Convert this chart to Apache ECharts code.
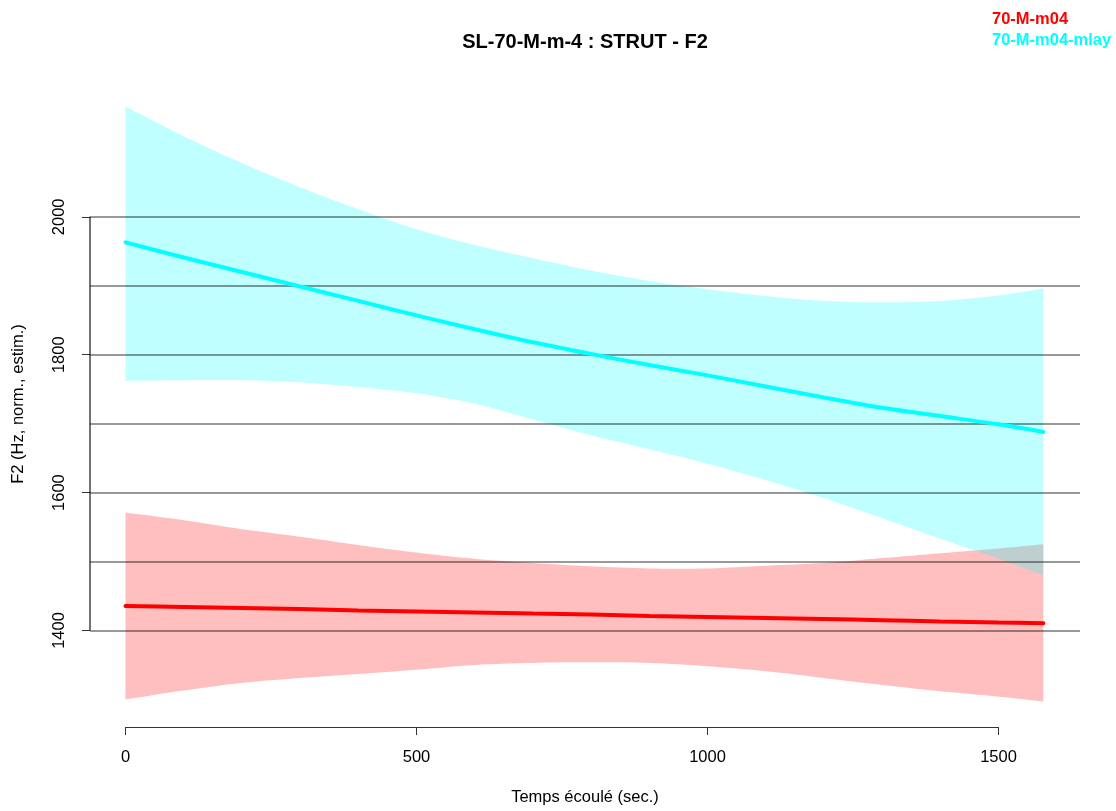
<!DOCTYPE html>
<html>
<head>
<meta charset="utf-8">
<title>SL-70-M-m-4 : STRUT - F2</title>
<script src="https://cdn.jsdelivr.net/npm/echarts@6/dist/echarts.min.js"></script>
<style>
  html, body { margin: 0; padding: 0; background: #fff; }
  #chart { width: 1116px; height: 811px; }
</style>
</head>
<body>
<div id="chart"></div>
<script>
// Elapsed time (s) at which the fitted curves are sampled
const times = [0, 100, 200, 300, 400, 500, 600, 700, 800, 900, 1000, 1100, 1200, 1300, 1400, 1500, 1577];

// 70-M-m04 : fitted F2 and its confidence band
const redMean  = [1435.5, 1434, 1432.5, 1431, 1429, 1427.5, 1426, 1424.5, 1423, 1421, 1419.5, 1418, 1416.5, 1415, 1413, 1411.5, 1410.5];
const redUpper = [1571, 1560, 1547, 1536, 1524, 1513, 1504, 1498, 1493, 1490, 1490, 1494, 1498, 1505, 1512, 1519, 1525];
const redLower = [1300, 1313, 1324, 1331, 1337, 1343, 1350, 1353, 1354, 1353, 1348, 1341, 1331, 1321, 1312, 1304, 1297];

// 70-M-m04-mlay : fitted F2 and its confidence band
const cyanMean  = [1963, 1941, 1920, 1899, 1878, 1857, 1837, 1818, 1801, 1785, 1770, 1754, 1738, 1723, 1711, 1699, 1688];
const cyanUpper = [2160, 2117, 2078, 2043, 2011, 1982, 1959, 1940, 1922, 1907, 1895, 1885, 1878, 1876, 1878, 1886, 1896];
const cyanLower = [1762, 1763, 1763, 1760, 1753, 1744, 1729, 1706, 1683, 1663, 1642, 1618, 1592, 1563, 1533, 1504, 1480];

// Axis ticks and horizontal reference lines
const xTicks = [0, 500, 1000, 1500];
const yTicks = [1400, 1600, 1800, 2000];
const hLines = [1400, 1500, 1600, 1700, 1800, 1900, 2000];

const seriesNames = ['70-M-m04', '70-M-m04-mlay'];
const RED = '#FF0000';
const CYAN = '#00FFFF';
const FONT = '"Liberation Sans", Arial, Helvetica, sans-serif';

const X_MIN = -61, X_MAX = 1640;
const Y_MIN = 1260, Y_MAX = 2197;

const pairs = (ys) => times.map((t, i) => [t, ys[i]]);

// Catmull-Rom densification in pixel space so band edges render as smooth curves
function smoothPx(pts, steps) {
  const out = [];
  for (let i = 0; i < pts.length - 1; i++) {
    const p0 = pts[Math.max(i - 1, 0)], p1 = pts[i], p2 = pts[i + 1], p3 = pts[Math.min(i + 2, pts.length - 1)];
    for (let s = 0; s < steps; s++) {
      const t = s / steps, t2 = t * t, t3 = t2 * t;
      const f = (a, b, c, d) => 0.5 * ((2 * b) + (-a + c) * t + (2 * a - 5 * b + 4 * c - d) * t2 + (-a + 3 * b - 3 * c + d) * t3);
      out.push([f(p0[0], p1[0], p2[0], p3[0]), f(p0[1], p1[1], p2[1], p3[1])]);
    }
  }
  out.push(pts[pts.length - 1]);
  return out;
}

// One band per series: data rows are [time, lower, upper]; drawn as a single filled polygon
function band(name, lo, hi, color) {
  return {
    type: 'custom', name: name + '-band', z: 1, silent: true, clip: true,
    data: times.map((t, i) => [t, lo[i], hi[i]]),
    encode: { x: 0, y: [1, 2] },
    renderItem: function (params, api) {
      if (params.dataIndex !== 0) return null;
      const top = [], bot = [];
      for (let i = 0; i < times.length; i++) {
        top.push(api.coord([times[i], hi[i]]));
        bot.push(api.coord([times[i], lo[i]]));
      }
      const pts = smoothPx(top, 8).concat(smoothPx(bot, 8).reverse());
      return { type: 'polygon', shape: { points: pts }, style: { fill: color, stroke: null } };
    }
  };
}

const chart = echarts.init(document.getElementById('chart'), null, { renderer: 'canvas' });

chart.setOption({
  animation: false,
  backgroundColor: '#ffffff',
  grid: { left: 90, width: 990, top: 81, height: 659 },
  xAxis: {
    type: 'value', min: X_MIN, max: X_MAX,
    name: 'Temps écoulé (sec.)', nameLocation: 'middle', nameGap: 62,
    nameTextStyle: { fontFamily: FONT, fontSize: 16.5, color: '#000' },
    axisLine: { show: false, onZero: false },
    splitLine: { show: false },
    axisTick: { show: true, customValues: xTicks, length: 8, lineStyle: { color: '#333', width: 1 } },
    axisLabel: { customValues: xTicks, margin: 22, fontFamily: FONT, fontSize: 16.5, color: '#000', formatter: v => String(v) }
  },
  yAxis: {
    type: 'value', min: Y_MIN, max: Y_MAX,
    name: 'F2 (Hz, norm., estim.)', nameLocation: 'middle', nameGap: 63, nameRotate: 90,
    nameTextStyle: { fontFamily: FONT, fontSize: 16.5, color: '#000' },
    axisLine: { show: false, onZero: false },
    splitLine: { show: false },
    axisTick: { show: true, customValues: yTicks, length: 8, lineStyle: { color: '#333', width: 1 } },
    axisLabel: { customValues: yTicks, rotate: 90, margin: 22, fontFamily: FONT, fontSize: 16.5, color: '#000', formatter: v => String(v) }
  },
  graphic: [
    {
      type: 'text', x: 585, y: 42, z: 100,
      style: { text: 'SL-70-M-m-4 : STRUT - F2', fill: '#000', font: 'bold 20px ' + FONT, textAlign: 'center', textVerticalAlign: 'middle' }
    },
    {
      type: 'text', x: 992, y: 19, z: 100,
      style: { text: seriesNames[0], fill: RED, font: 'bold 16.5px ' + FONT, textAlign: 'left', textVerticalAlign: 'middle' }
    },
    {
      type: 'text', x: 992, y: 40, z: 100,
      style: { text: seriesNames[1], fill: CYAN, font: 'bold 16.5px ' + FONT, textAlign: 'left', textVerticalAlign: 'middle' }
    }
  ],
  series: [
    band(seriesNames[0], redLower, redUpper, 'rgba(255,0,0,0.25)'),
    band(seriesNames[1], cyanLower, cyanUpper, 'rgba(0,255,255,0.25)'),
    {
      // reference lines and the two axis lines
      type: 'line', name: 'frame', data: [], z: 3, silent: true,
      markLine: {
        z: 3, silent: true, symbol: ['none', 'none'], animation: false,
        label: { show: false },
        emphasis: { disabled: true },
        data: [
          ...hLines.map(v => ({ yAxis: v, lineStyle: { color: 'rgba(0,0,0,0.4)', width: 2, type: 'solid' } })),
          [
            { coord: [X_MIN, yTicks[0]], lineStyle: { color: 'rgba(0,0,0,0.55)', width: 2, type: 'solid' } },
            { coord: [X_MIN, yTicks[yTicks.length - 1]] }
          ],
          [
            { coord: [xTicks[0], Y_MIN], lineStyle: { color: '#333', width: 1, type: 'solid' } },
            { coord: [xTicks[xTicks.length - 1], Y_MIN] }
          ]
        ]
      }
    },
    {
      type: 'line', name: seriesNames[0], data: pairs(redMean), z: 10,
      showSymbol: false, smooth: 0.3, silent: true,
      lineStyle: { color: RED, width: 4, cap: 'round' }
    },
    {
      type: 'line', name: seriesNames[1], data: pairs(cyanMean), z: 10,
      showSymbol: false, smooth: 0.3, silent: true,
      lineStyle: { color: CYAN, width: 4, cap: 'round' }
    }
  ]
});
</script>
</body>
</html>
